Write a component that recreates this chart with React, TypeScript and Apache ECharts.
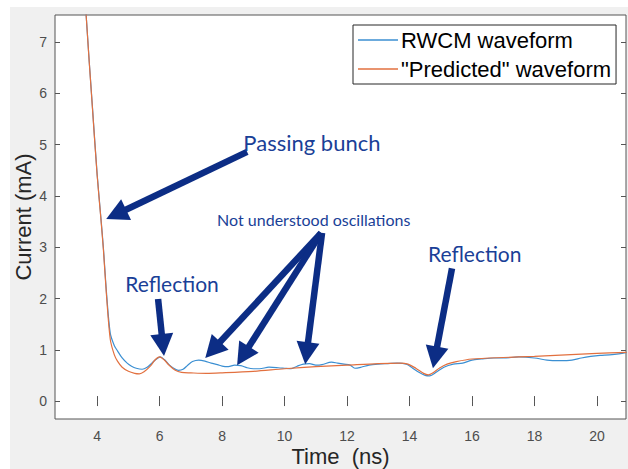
import React, { useEffect, useRef } from "react";
import * as echarts from "echarts";

// ---- data ----
const rwcmTime = [3.5, 3.65, 3.85, 4.0, 4.12, 4.2, 4.3, 4.42, 4.55, 4.65, 4.8, 4.96, 5.1, 5.25, 5.44, 5.6, 5.75, 5.9, 6.02, 6.15, 6.3, 6.45, 6.6, 6.75, 6.9, 7.05, 7.25, 7.45, 7.65, 7.85, 8.0, 8.2, 8.4, 8.6, 8.8, 9.0, 9.2, 9.5, 9.8, 10.0, 10.2, 10.4, 10.6, 10.8, 11.0, 11.2, 11.5, 11.7, 11.9, 12.1, 12.25, 12.45, 12.7, 13.0, 13.3, 13.6, 13.9, 14.1, 14.3, 14.5, 14.65, 14.85, 15.1, 15.4, 15.7, 16.0, 16.3, 16.7, 17.0, 17.5, 18.0, 18.4, 18.8, 19.2, 19.5, 19.8, 20.1, 20.4, 20.7, 20.95];
const rwcmCurrent = [9.2, 7.5, 5.72, 4.42, 3.57, 2.98, 2.1, 1.32, 1.08, 0.98, 0.84, 0.74, 0.68, 0.64, 0.62, 0.66, 0.74, 0.82, 0.86, 0.81, 0.71, 0.64, 0.6, 0.62, 0.7, 0.77, 0.8, 0.78, 0.74, 0.71, 0.68, 0.67, 0.7, 0.69, 0.65, 0.63, 0.63, 0.66, 0.65, 0.64, 0.63, 0.68, 0.72, 0.73, 0.7, 0.71, 0.76, 0.74, 0.72, 0.7, 0.64, 0.66, 0.7, 0.72, 0.73, 0.74, 0.72, 0.64, 0.56, 0.5, 0.49, 0.56, 0.66, 0.72, 0.74, 0.8, 0.82, 0.84, 0.84, 0.86, 0.84, 0.8, 0.79, 0.8, 0.84, 0.87, 0.89, 0.9, 0.92, 0.95];

const predTime = [3.5, 3.65, 3.85, 4.0, 4.12, 4.2, 4.3, 4.42, 4.55, 4.65, 4.8, 5.0, 5.2, 5.35, 5.5, 5.7, 5.85, 6.0, 6.15, 6.3, 6.5, 6.7, 7.0, 7.5, 8.0, 9.0, 10.0, 11.0, 12.0, 13.0, 13.7, 13.95, 14.2, 14.45, 14.6, 14.75, 14.95, 15.2, 15.5, 16.0, 17.0, 18.0, 19.0, 20.0, 20.95];
const predCurrent = [9.2, 7.5, 5.7, 4.4, 3.55, 2.95, 2.05, 1.2, 0.9, 0.78, 0.66, 0.58, 0.54, 0.53, 0.57, 0.68, 0.8, 0.86, 0.8, 0.7, 0.6, 0.56, 0.55, 0.54, 0.55, 0.58, 0.63, 0.67, 0.7, 0.73, 0.74, 0.72, 0.64, 0.54, 0.51, 0.55, 0.64, 0.72, 0.77, 0.82, 0.85, 0.87, 0.9, 0.93, 0.95];

const seriesNames = ["RWCM waveform", "\"Predicted\" waveform"];
const xTickValues = [4, 6, 8, 10, 12, 14, 16, 18, 20];
const yTickValues = [0, 1, 2, 3, 4, 5, 6, 7];

// annotation arrows: [from (t, mA), to (t, mA)]
const arrowFrom = [[8.8, 4.86], [5.95, 1.99], [11.17, 3.28], [11.17, 3.28], [11.2, 3.28], [15.36, 2.59]];
const arrowTo = [[4.29, 3.55], [6.14, 0.88], [7.46, 0.84], [8.48, 0.7], [10.66, 0.72], [14.75, 0.64]];

// annotation texts
const noteTexts = ["Passing bunch", "Reflection", "Not understood oscillations", "Reflection"];
const noteAnchor = [[8.68, 5.05], [4.9, 2.29], [7.84, 3.55], [14.59, 2.88]];
const noteSize = [22, 21, 16, 21];

const BLUE = "#3b8fd2";
const ORANGE = "#e2703f";
const NAVY = "#0c2d85";
const TEXTBLUE = "#1a3f97";
const AXIS = "#555555";
const LEGEND_LINE = "path://M0,0 L40,0 L40,1.3 L0,1.3 Z";

export default function App() {
  const ref = useRef<HTMLDivElement>(null);
  useEffect(() => {
    const chart = echarts.init(ref.current!, null, { renderer: "svg" });
    const tickCommon = { inside: true, length: 5, lineStyle: { color: AXIS, width: 1 } };
    const font = "Liberation Sans, Arial, sans-serif";
    const option: any = {
      animation: false,
      backgroundColor: "#f0f0f0",
      grid: {
        left: 55, top: 15, right: 2, bottom: 50,
        containLabel: false, outerBoundsMode: "none",
        show: true, backgroundColor: "#ffffff", borderColor: AXIS, borderWidth: 1,
      },
      legend: {
        data: seriesNames.map((n) => ({ name: n, icon: LEGEND_LINE })),
        orient: "vertical",
        left: 353, top: 25,
        itemWidth: 40, itemHeight: 22, itemGap: 7,
        padding: [4, 5, 4, 5],
        backgroundColor: "#ffffff",
        borderColor: "#262626", borderWidth: 1, borderRadius: 0,
        textStyle: { fontFamily: font, fontSize: 22, color: "#000", lineHeight: 22, padding: [0, 0, 0, -2] },
      },
      xAxis: [
        {
          type: "value", min: 2.65, max: 20.93,
          axisLine: { show: false },
          axisTick: { ...tickCommon, customValues: xTickValues },
          axisLabel: { customValues: xTickValues, margin: 10, fontSize: 14, color: "#4d4d4d", fontFamily: font },
          splitLine: { show: false },
          name: "Time  (ns)", nameLocation: "middle", nameGap: 26, nameMoveOverlap: false,
          nameTextStyle: { fontSize: 22, color: "#262626", fontFamily: font },
        },
        {
          type: "value", min: 2.65, max: 20.93, position: "top",
          axisLine: { show: false },
          axisTick: { ...tickCommon, customValues: xTickValues },
          axisLabel: { show: false },
          splitLine: { show: false },
        },
      ],
      yAxis: [
        {
          type: "value", min: -0.35, max: 7.53,
          axisLine: { show: false },
          axisTick: { ...tickCommon, customValues: yTickValues },
          axisLabel: { customValues: yTickValues, margin: 8, fontSize: 14, color: "#4d4d4d", fontFamily: font },
          splitLine: { show: false },
          name: "Current (mA)", nameLocation: "middle", nameGap: 21, nameMoveOverlap: false,
          nameTextStyle: { fontSize: 22, color: "#262626", fontFamily: font },
        },
        {
          type: "value", min: -0.35, max: 7.53, position: "right",
          axisLine: { show: false },
          axisTick: { ...tickCommon, customValues: yTickValues },
          axisLabel: { show: false },
          splitLine: { show: false },
        },
      ],
      series: [
        {
          name: seriesNames[0], type: "line", xAxisIndex: 0, yAxisIndex: 0,
          data: rwcmTime.map((t, i) => [t, rwcmCurrent[i]]),
          symbol: "none", showSymbol: false, smooth: 0.3,
          lineStyle: { color: BLUE, width: 1.2 }, itemStyle: { color: BLUE },
          clip: true,
        },
        {
          name: seriesNames[1], type: "line", xAxisIndex: 0, yAxisIndex: 0,
          data: predTime.map((t, i) => [t, predCurrent[i]]),
          symbol: "none", showSymbol: false, smooth: 0.3,
          lineStyle: { color: ORANGE, width: 1.2 }, itemStyle: { color: ORANGE },
          clip: true,
        },
      ],
    };
    chart.setOption(option);

    const toPx = (p: number[]) => chart.convertToPixel({ xAxisIndex: 0, yAxisIndex: 0 }, p) as number[];
    const graphics: any[] = [
      { type: "rect", shape: { x: 0, y: 0, width: 628, height: 7 }, style: { fill: "#ffffff" }, silent: true },
      { type: "rect", shape: { x: 0, y: 0, width: 10, height: 469 }, style: { fill: "#ffffff" }, silent: true },
    ];
    const headLen = 22, headW = 23, shaftW = 6.5;
    arrowFrom.forEach((from, i) => {
      const a = toPx(from), b = toPx(arrowTo[i]);
      const dx = b[0] - a[0], dy = b[1] - a[1];
      const len = Math.sqrt(dx * dx + dy * dy);
      const ux = dx / len, uy = dy / len;
      const nx = -uy, ny = ux;
      const bx = b[0] - ux * headLen, by = b[1] - uy * headLen;
      graphics.push({
        type: "line", z: 50,
        shape: { x1: a[0], y1: a[1], x2: bx + ux * 2, y2: by + uy * 2 },
        style: { stroke: NAVY, lineWidth: shaftW },
      });
      graphics.push({
        type: "polygon", z: 50,
        shape: { points: [[b[0], b[1]], [bx + nx * headW / 2, by + ny * headW / 2], [bx - nx * headW / 2, by - ny * headW / 2]] },
        style: { fill: NAVY },
      });
    });
    noteTexts.forEach((txt, i) => {
      const p = toPx(noteAnchor[i]);
      graphics.push({
        type: "text", z: 60, x: p[0], y: p[1],
        style: { text: txt, fill: TEXTBLUE, fontSize: noteSize[i], fontFamily: "Lato, sans-serif", align: "left", verticalAlign: "middle" },
      });
    });
    chart.setOption({ graphic: graphics });
    return () => chart.dispose();
  }, []);
  return <div ref={ref} style={{ position: "absolute", left: 0, top: 0, width: 628, height: 469 }} />;
}
